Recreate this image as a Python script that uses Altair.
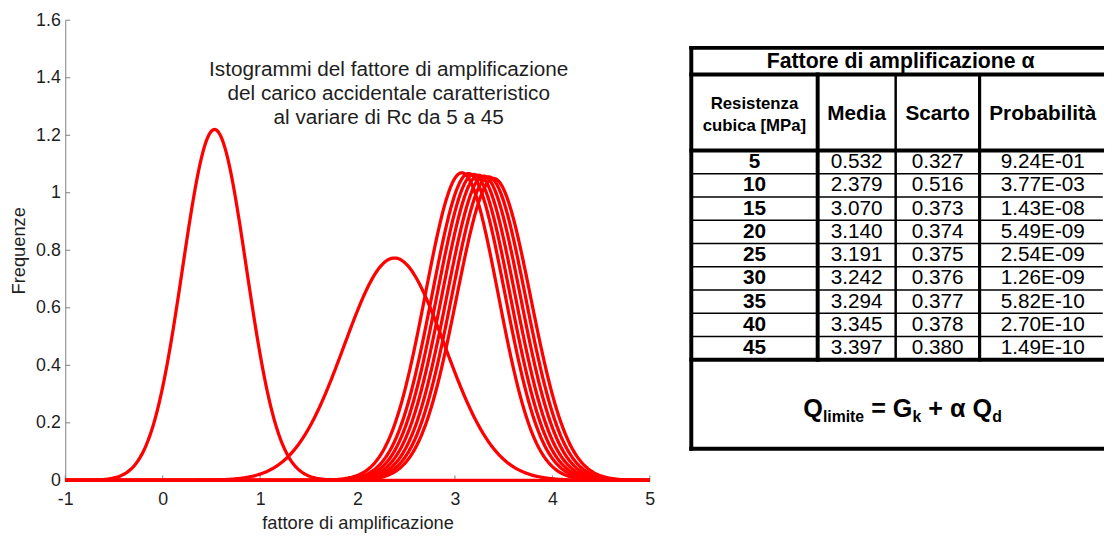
import altair as alt
import pandas as pd

# ---------------- data ----------------
resistenza = [5, 10, 15, 20, 25, 30, 35, 40, 45]
media = [0.532, 2.379, 3.070, 3.140, 3.191, 3.242, 3.294, 3.345, 3.397]
scarto = [0.327, 0.516, 0.373, 0.374, 0.375, 0.376, 0.377, 0.378, 0.380]
probabilita = ["9.24E-01", "3.77E-03", "1.43E-08", "5.49E-09", "2.54E-09",
               "1.26E-09", "5.82E-10", "2.70E-10", "1.49E-10"]
x_ticks = [-1, 0, 1, 2, 3, 4, 5]
y_ticks = [0, 0.2, 0.4, 0.6, 0.8, 1.0, 1.2, 1.4, 1.6]
title_lines = ["Istogrammi del fattore di amplificazione",
               "del carico accidentale caratteristico",
               "al variare di Rc da 5 a 45"]
table_title = "Fattore di amplificazione α"
col_headers = ["Media", "Scarto", "Probabilità"]
first_header = ["Resistenza", "cubica [MPa]"]

FONT = "Liberation Sans"
RED = "#ff0000"
AX = "#808080"
TXT = "#1e1e1e"

W, H = 592, 466
xscale = alt.Scale(domain=[-1, 5], nice=False, zero=False)
yscale = alt.Scale(domain=[0, 1.6], nice=False)

# ---------------- left plot ----------------
params = pd.DataFrame({"rc": resistenza, "media": media, "scarto": scarto})

curves = alt.Chart(params).transform_calculate(
    x="sequence(-1, 5.0001, 0.01)"
).transform_flatten(["x"]).transform_calculate(
    f="densityNormal(datum.x, datum.media, datum.scarto)"
).mark_line(color=RED, strokeWidth=3.3).encode(
    x=alt.X("x:Q", scale=xscale,
            axis=alt.Axis(values=x_ticks, tickSize=0, labelFontSize=18, labelColor=TXT,
                          labelFont=FONT, labelPadding=10, labelFlush=False,
                          labelExpr="'' + datum.value", domainColor=AX, grid=False,
                          title="fattore di amplificazione", titleFont=FONT,
                          titleFontSize=18.5, titleFontWeight="normal", titleColor=TXT,
                          titlePadding=6)),
    y=alt.Y("f:Q", scale=yscale,
            axis=alt.Axis(values=y_ticks, tickSize=0, labelFontSize=18, labelColor=TXT,
                          labelFont=FONT, labelPadding=5, labelFlush=False,
                          labelExpr="'' + datum.value", domainColor=AX, grid=False,
                          title="Frequenze", titleFont=FONT, titleFontSize=18.5,
                          titleFontWeight="normal", titleColor=TXT, titlePadding=7)),
    detail="rc:N",
    order="x:Q",
)

yt = alt.Chart(pd.DataFrame({"v": y_ticks})).mark_rule(color=AX, strokeWidth=1).encode(
    y=alt.Y("v:Q", scale=yscale), x=alt.value(0), x2=alt.value(5))
xt = alt.Chart(pd.DataFrame({"v": x_ticks})).mark_rule(color=AX, strokeWidth=1).encode(
    x=alt.X("v:Q", scale=xscale), y=alt.value(H), y2=alt.value(H - 5))

title_df = pd.DataFrame({"t": title_lines, "x": [2.32] * 3, "y": [1.428, 1.342, 1.260]})
ttl = alt.Chart(title_df).mark_text(font=FONT, fontSize=21, color=TXT, align="center",
                                    baseline="middle").encode(
    x=alt.X("x:Q", scale=xscale), y=alt.Y("y:Q", scale=yscale), text="t:N")

left = alt.layer(xt, yt, curves, ttl).properties(width=W, height=H)

# ---------------- table panel ----------------
TW, TOP, TB = 416, 28, 406
cols = [0, 128, 207, 292, TW]
centers = [64, 167.5, 249.5, 356]
row_top, row_h = 104, 23.55
data_bottom = row_top + row_h * len(resistenza)

lines = []
def hline(y, x0, x1, w):
    lines.append({"x": x0, "x2": x1, "y": y, "y2": y, "w": w})
def vline(x, y0, y1, w):
    lines.append({"x": x, "x2": x, "y": y0, "y2": y1, "w": w})

hline(0, 0, TW, 4)
hline(27, 0, TW, 4)
hline(row_top, 0, TW, 4)
for i in range(1, len(resistenza)):
    hline(row_top + row_h * i, 0, TW, 1.5)
hline(data_bottom, 0, TW, 4)
hline(TB, 0, TW, 4)
vline(0, 0, TB, 4)
vline(cols[1], 27, data_bottom, 4)
vline(cols[2], 27, data_bottom, 2.5)
vline(cols[3], 27, data_bottom, 3.2)

tx = alt.Scale(domain=[0, TW], nice=False, zero=False)
ty = alt.Scale(domain=[-TOP, TB], nice=False, zero=False, reverse=True)

grid = alt.Chart(pd.DataFrame(lines)).mark_rule(color="black", strokeCap="square").encode(
    x=alt.X("x:Q", scale=tx, axis=None), x2="x2:Q",
    y=alt.Y("y:Q", scale=ty, axis=None), y2="y2:Q",
    strokeWidth=alt.StrokeWidth("w:Q", scale=None, legend=None))

bold_rows, norm_rows = [], []
bold_rows.append({"x": 212, "y": 14, "t": table_title, "s": 21.5})
bold_rows.append({"x": centers[0], "y": 57, "t": first_header[0], "s": 17})
bold_rows.append({"x": centers[0], "y": 79, "t": first_header[1], "s": 17})
for c, h in zip(centers[1:], col_headers):
    bold_rows.append({"x": c, "y": 67, "t": h, "s": 21})
for i, rc in enumerate(resistenza):
    yc = row_top + row_h * (i + 0.5)
    bold_rows.append({"x": centers[0], "y": yc, "t": str(rc), "s": 21})
    norm_rows.append({"x": centers[1], "y": yc, "t": f"{media[i]:.3f}", "s": 21})
    norm_rows.append({"x": centers[2], "y": yc, "t": f"{scarto[i]:.3f}", "s": 21})
    norm_rows.append({"x": centers[3], "y": yc, "t": probabilita[i], "s": 21})

def text_layer(rows, weight, align="center", baseline="middle"):
    return alt.Chart(pd.DataFrame(rows)).mark_text(
        font=FONT, fontWeight=weight, color="black", align=align, baseline=baseline).encode(
        x=alt.X("x:Q", scale=tx, axis=None), y=alt.Y("y:Q", scale=ty, axis=None),
        text="t:N", size=alt.Size("s:Q", scale=None, legend=None))

# formula Q_limite = G_k + alpha Q_d  (pieces: text, size, gap before in em)
BIG, SMALL = 25.5, 16
pieces = [("Q", BIG, 0), ("limite", SMALL, 0), ("= G", BIG, 0.278), ("k", SMALL, 0),
          ("+ α Q", BIG, 0.278), ("d", SMALL, 0)]
wid = {"Q": .778, "l": .278, "i": .278, "m": .889, "t": .333, "e": .556, " ": .278,
       "=": .584, "G": .778, "k": .556, "+": .584, "α": .62, "d": .611}
total = sum((sum(wid[ch] for ch in txt) + g) * s for txt, s, g in pieces)
xcur = 214 - total / 2
base = 374
form_rows = []
for txt, s, g in pieces:
    xcur += g * s
    form_rows.append({"x": xcur, "y": base if s == BIG else base + 5, "t": txt, "s": s})
    xcur += sum(wid[ch] for ch in txt) * s

table = alt.layer(
    grid,
    text_layer(bold_rows, "bold"),
    text_layer(norm_rows, "normal"),
    text_layer(form_rows, "bold", align="left", baseline="alphabetic"),
).properties(width=TW, height=TOP + TB)

chart = alt.hconcat(left, table, spacing=32).properties(
    padding={"left": 1, "top": 0, "right": 0, "bottom": 2}
).configure_view(stroke=None)

chart.save("out.html", embed_options={"renderer": "svg", "actions": False})
